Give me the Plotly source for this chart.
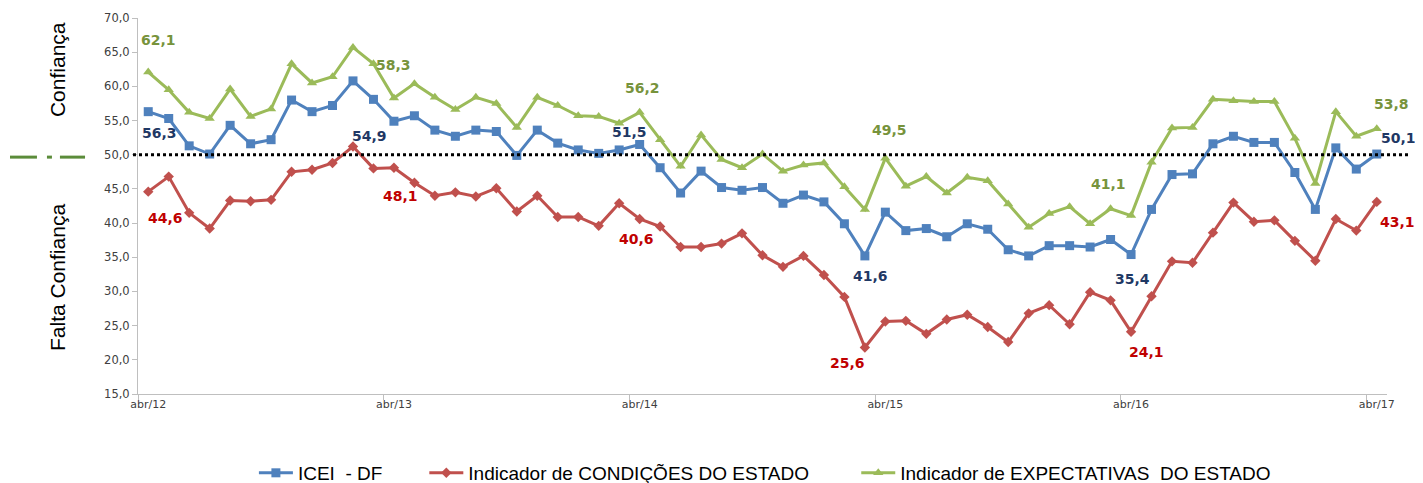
import plotly.graph_objects as go

# ---------------- data ----------------
tick_labels = ["abr/12", "abr/13", "abr/14", "abr/15", "abr/16", "abr/17"]

icei = [56.3, 55.3, 51.3, 50.1, 54.3, 51.6, 52.2, 58.0, 56.3, 57.2, 60.8, 58.1,
        54.9, 55.7, 53.6, 52.7, 53.6, 53.4, 49.9, 53.6, 51.7, 50.7, 50.2, 50.7,
        51.5, 48.1, 44.4, 47.6, 45.2, 44.8, 45.2, 42.9, 44.1, 43.1, 39.9, 35.2,
        41.6, 38.9, 39.2, 38.0, 39.9, 39.1, 36.1, 35.2, 36.7, 36.7, 36.5, 37.6,
        35.4, 42.0, 47.1, 47.2, 51.6, 52.7, 51.8, 51.8, 47.4, 42.0, 51.0, 47.9,
        50.1]

condicoes = [44.6, 46.8, 41.5, 39.2, 43.3, 43.2, 43.4, 47.5, 47.8, 48.8, 51.2, 48.0,
             48.1, 45.9, 44.0, 44.5, 43.9, 45.1, 41.7, 44.0, 40.9, 40.9, 39.6, 42.9,
             40.6, 39.5, 36.5, 36.5, 37.0, 38.5, 35.3, 33.6, 35.2, 32.4, 29.2, 21.8,
             25.6, 25.7, 23.8, 25.9, 26.6, 24.8, 22.6, 26.8, 28.0, 25.2, 29.9, 28.7,
             24.1, 29.3, 34.4, 34.2, 38.6, 43.0, 40.2, 40.4, 37.4, 34.5, 40.6, 38.9,
             43.1]

expectativas = [62.1, 59.5, 56.2, 55.3, 59.6, 55.6, 56.7, 63.3, 60.5, 61.4, 65.7, 63.3,
                58.3, 60.4, 58.4, 56.6, 58.4, 57.5, 54.0, 58.4, 57.2, 55.7, 55.6, 54.6,
                56.2, 52.2, 48.3, 52.9, 49.3, 48.1, 50.1, 47.6, 48.5, 48.8, 45.3, 42.0,
                49.5, 45.4, 46.8, 44.4, 46.7, 46.2, 42.8, 39.4, 41.4, 42.4, 39.9, 42.1,
                41.1, 48.9, 53.9, 54.0, 58.1, 57.9, 57.8, 57.8, 52.4, 45.8, 56.3, 52.7,
                53.8]

series_names = ["ICEI  - DF", "Indicador de CONDIÇÕES DO ESTADO",
                "Indicador de EXPECTATIVAS  DO ESTADO"]

n = len(icei)
x = list(range(n))
label_idx = [0, 12, 24, 36, 48, 60]  # April of each year

# label offsets (pixels) per series for each labelled April point
off_icei = [(11, -21), (-24, -15), (-10, 12), (-15, -64), (1, -24), (22, 16)]
off_cond = [(17, -26), (7, -28), (-3, -20), (-38, -41), (15, -20), (21, -20)]
off_exp = [(10, 32), (0, 33), (3, 24), (4, 28), (-23, 32), (15, 25)]

BLUE, RED, GREEN = "#4F81BD", "#C0504D", "#9BBB59"
LBL_BLUE, LBL_RED, LBL_GREEN = "#1F3864", "#C00000", "#77933C"

NB = "\u00a0"
pad = [NB * 7, NB * 8, ""]

fig = go.Figure()
fig.add_trace(go.Scatter(x=x, y=icei, name=series_names[0] + pad[0], mode="lines+markers",
                         line=dict(color=BLUE, width=3),
                         marker=dict(symbol="square", size=9, color=BLUE)))
fig.add_trace(go.Scatter(x=x, y=condicoes, name=series_names[1] + pad[1],
                         mode="lines+markers", line=dict(color=RED, width=3),
                         marker=dict(symbol="diamond", size=8, color=RED)))
fig.add_trace(go.Scatter(x=x, y=expectativas, name=series_names[2] + pad[2],
                         mode="lines+markers", line=dict(color=GREEN, width=3),
                         marker=dict(symbol="triangle-up", size=9, color=GREEN)))

def fmt(v):
    return f"{v:.1f}".replace(".", ",")

annotations = []
for series, offs, col in ((icei, off_icei, LBL_BLUE), (condicoes, off_cond, LBL_RED),
                          (expectativas, off_exp, LBL_GREEN)):
    for i, (dx, dy) in zip(label_idx, offs):
        annotations.append(dict(x=x[i], y=series[i], xref="x", yref="y",
                                text=fmt(series[i]), showarrow=False,
                                xshift=dx, yshift=dy,
                                font=dict(family="DejaVu Sans", size=14, color=col,
                                          weight="bold")))

# side labels
for txt, yy in (("Confiança", 0.864), ("Falta Confiança", 0.311)):
    annotations.append(dict(x=-0.0649, y=yy, xref="paper", yref="paper", text=txt,
                            textangle=-90, showarrow=False, xanchor="center",
                            yanchor="middle",
                            font=dict(family="Liberation Sans", size=21, color="#000000")))

shapes = [
    dict(type="line", xref="paper", yref="y", x0=-0.004, x1=1.018, y0=50, y1=50,
         line=dict(color="#000000", width=3, dash="dot")),
]
for a, b in ((-0.1025, -0.0809), (-0.0729, -0.0689), (-0.0625, -0.0424)):
    shapes.append(dict(type="line", xref="paper", yref="paper", x0=a, x1=b,
                       y0=0.630, y1=0.630, line=dict(color="#5B8C3A", width=3)))

fig.update_layout(
    width=1415, height=475,
    margin=dict(l=130, r=36, t=10, b=89, autoexpand=False),
    paper_bgcolor="white", plot_bgcolor="white",
    separators=",.",
    showlegend=True,
    legend=dict(orientation="h", x=0.0928, xanchor="left", y=-0.21, yanchor="middle",
                font=dict(family="Liberation Sans", size=19, color="#000000"),
                itemwidth=34),
    annotations=annotations,
    shapes=shapes,
)
fig.update_xaxes(range=[-0.5, n - 0.5], tickmode="array",
                 tickvals=[x[i] for i in label_idx], ticktext=tick_labels,
                 ticks="", showgrid=False, zeroline=False,
                 showline=True, linecolor="#BFBFBF", linewidth=1,
                 tickfont=dict(family="DejaVu Sans", size=11, color="#404040"),
                 minor=dict(tick0=-0.5, dtick=12, ticks="outside", ticklen=5,
                            tickcolor="#BFBFBF", showgrid=False))
fig.update_yaxes(range=[15, 70], dtick=5, tickformat=".1f", showgrid=False,
                 zeroline=False, showline=True, linecolor="#BFBFBF", linewidth=1,
                 ticks="outside", ticklen=5, tickcolor="#BFBFBF",
                 tickfont=dict(family="DejaVu Sans", size=11.5, color="#404040"))

fig.write_html("out.html")
